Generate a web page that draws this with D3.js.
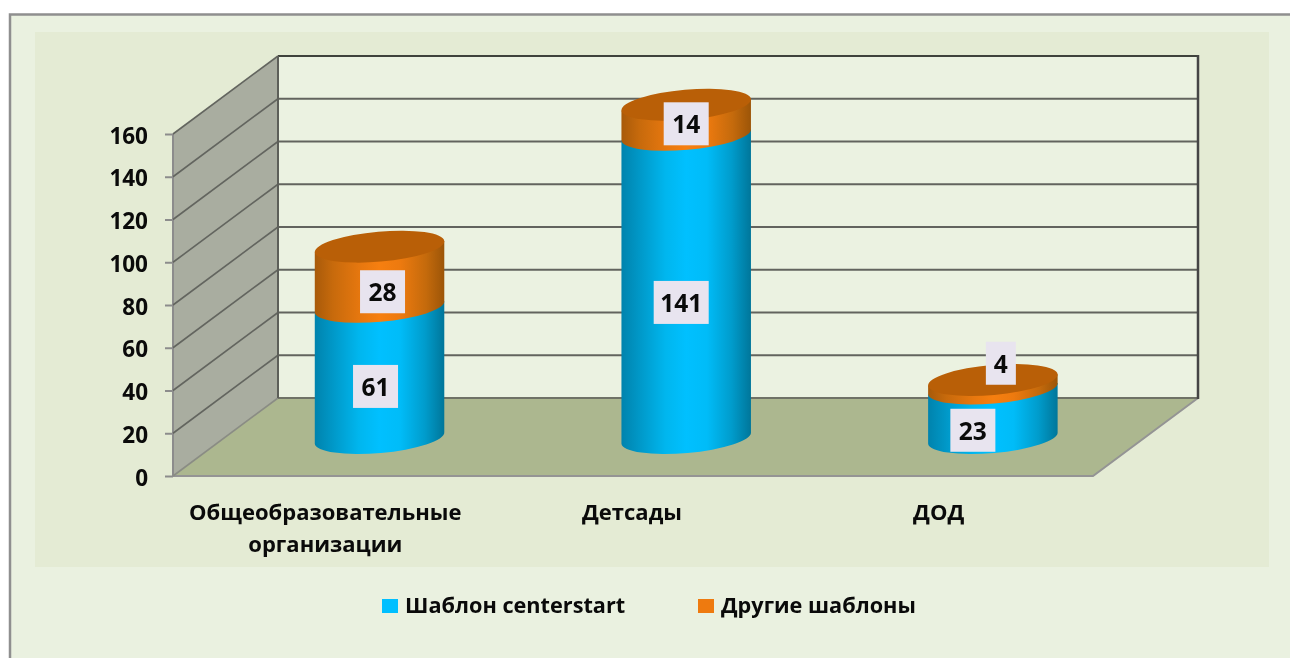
<!DOCTYPE html>
<html lang="ru">
<head>
<meta charset="utf-8">
<script src="https://cdn.jsdelivr.net/npm/d3@7/dist/d3.min.js"></script>
<style>
html,body{margin:0;padding:0;background:#fff;overflow:hidden}
svg{display:block;filter:blur(.4px)}
text{font-family:"Open Sans","Noto Sans",sans-serif;font-weight:700;fill:#0a0a0a}
</style>
</head>
<body>
<svg id="chart" width="1290" height="658"></svg>
<script>
const categories = ["Общеобразовательные организации", "Детсады", "ДОД"];
const templateValues = [61, 141, 23];
const otherValues = [28, 14, 4];
const seriesNames = ["Шаблон centerstart", "Другие шаблоны"];
const tickValues = [0, 20, 40, 60, 80, 100, 120, 140, 160];

const W = 1290, H = 658;
const svg = d3.select("#chart");
const depthX = 105, depthY = -78;
const x = d3.scaleBand().domain(categories).range([173, 1093]);
const y = d3.scaleLinear().domain([0, 160]).range([476, 134]);
// cylinders stand halfway into the floor's depth
const yCyl = d3.scaleLinear().domain([0, 160]).range([438, 94]);
const cylShift = 53.2, rx = 65, ry = 15, tilt = -5;
const tiltRad = tilt * Math.PI / 180;
const endDx = rx * Math.cos(tiltRad), endDy = rx * Math.sin(tiltRad);

// frame and panel
svg.append("rect").attr("x", 10).attr("y", 14.5).attr("width", W).attr("height", H)
  .attr("fill", "#eaf1e0").attr("stroke", "#8f8f8f").attr("stroke-width", 2.5);
svg.append("rect").attr("x", 35).attr("y", 32).attr("width", 1234).attr("height", 535).attr("fill", "#e4ebd4");

// gradients
const defs = svg.append("defs");
function gradient(id, stops) {
  const g = defs.append("linearGradient").attr("id", id).attr("x1", 0).attr("x2", 1).attr("y1", 0).attr("y2", 0);
  stops.forEach(([o, c]) => g.append("stop").attr("offset", o).attr("stop-color", c));
}
gradient("blueBody", [[0, "#0083ad"], [.12, "#0095c4"], [.34, "#00b6ee"], [.5, "#00c0ff"], [.66, "#00bcf8"], [.85, "#009ccc"], [1, "#00769a"]]);
gradient("orangeBody", [[0, "#a85a0a"], [.14, "#c76a0c"], [.36, "#e8780f"], [.5, "#f67f10"], [.66, "#ed7a0f"], [.86, "#c46a0c"], [1, "#9c5508"]]);

const walls = svg.append("g");
const pt = (px, py) => [px, py];
const poly = d3.line();
const x0 = x.range()[0], x1 = x.range()[1];
const back = x0 + depthX, backR = x1 + depthX;

// back wall
walls.append("path")
  .attr("d", poly([pt(back, y(160) + depthY), pt(backR, y(160) + depthY), pt(backR, y(0) + depthY), pt(back, y(0) + depthY)]) + "Z")
  .attr("fill", "#ebf2e1");
// floor
walls.append("path")
  .attr("d", poly([pt(x0, y(0)), pt(back, y(0) + depthY), pt(backR, y(0) + depthY), pt(x1, y(0))]) + "Z")
  .attr("fill", "#acb78f");
walls.append("path")
  .attr("d", poly([pt(x0, y(0)), pt(x1, y(0)), pt(backR, y(0) + depthY)]))
  .attr("fill", "none").attr("stroke", "#949494").attr("stroke-width", 2);
// side wall
walls.append("path")
  .attr("d", poly([pt(x0, y(0)), pt(x0, y(160)), pt(back, y(160) + depthY), pt(back, y(0) + depthY)]) + "Z")
  .attr("fill", "#a9ada0");
walls.append("line").attr("x1", x0).attr("x2", x0).attr("y1", y(0)).attr("y2", y(160))
  .attr("stroke", "#8c8c8c").attr("stroke-width", 2);

// gridlines: slanted part on the side wall, level part on the back wall
const gridG = walls.append("g");
gridG.selectAll("path.side").data(tickValues).join("path").attr("class", "side")
  .attr("d", v => poly([pt(x0, y(v)), pt(back, y(v) + depthY)]))
  .attr("fill", "none").attr("stroke", v => v === 0 ? "#8a8c84" : "#63655f").attr("stroke-width", 1.6);
gridG.selectAll("path.rear").data(tickValues).join("path").attr("class", "rear")
  .attr("d", v => poly([pt(back, y(v) + depthY), pt(backR, y(v) + depthY)]))
  .attr("fill", "none")
  .attr("stroke", v => v === 160 ? "#3f423c" : v === 0 ? "#6f7266" : "#62645e")
  .attr("stroke-width", 2);
gridG.append("line").attr("x1", back).attr("x2", back).attr("y1", y(160) + depthY).attr("y2", y(0) + depthY)
  .attr("stroke", "#5d5f59").attr("stroke-width", 2);
gridG.append("line").attr("x1", backR).attr("x2", backR).attr("y1", y(160) + depthY - 1).attr("y2", y(0) + depthY + 1)
  .attr("stroke", "#454545").attr("stroke-width", 2.5);

// y axis
const axis = svg.append("g").attr("transform", `translate(${x0},0)`)
  .call(d3.axisLeft(y).tickValues(tickValues).tickSize(8).tickPadding(17));
axis.select(".domain").remove();
axis.selectAll("line").attr("stroke", "#8c8c8c").attr("stroke-width", 2);
axis.selectAll("text").attr("font-size", 22.5).attr("dy", "0.40em");

// cylinders
const cx = i => x(categories[i]) + x.bandwidth() / 2 + cylShift;
function body(i, v0, v1) {
  const c = cx(i), a = yCyl(v0), b = yCyl(v1);
  return `M${c - endDx},${b - endDy}L${c - endDx},${a - endDy}` +
    `A${rx},${ry} ${tilt} 0 0 ${c + endDx},${a + endDy}L${c + endDx},${b + endDy}Z`;
}
const bars = svg.append("g");
categories.forEach((cat, i) => {
  const total = templateValues[i] + otherValues[i];
  bars.append("path").attr("d", body(i, 0, templateValues[i])).attr("fill", "url(#blueBody)");
  bars.append("path").attr("d", body(i, templateValues[i], total)).attr("fill", "url(#orangeBody)");
  bars.append("ellipse").attr("cx", 0).attr("cy", 0).attr("rx", rx).attr("ry", ry)
    .attr("transform", `translate(${cx(i)},${yCyl(total)}) rotate(${tilt})`)
    .attr("fill", "#b95f07");
});

// data labels: nudged off each segment's midpoint, as placed in the original
const labelNudgeBlue = [[-4, 14], [-5, 16], [-20, 17]];
const labelNudgeOrange = [[3, 15], [0, 4], [8, -21]];
function dataLabel(text, px, py, boxW) {
  const g = svg.append("g").attr("transform", `translate(${px},${py})`);
  g.append("rect").attr("x", -boxW / 2).attr("y", -21.5).attr("width", boxW).attr("height", 43).attr("fill", "#e8e4ef");
  g.append("text").attr("text-anchor", "middle").attr("dy", "0.39em").attr("font-size", 24.5).text(text);
}
categories.forEach((cat, i) => {
  const v = templateValues[i], o = otherValues[i];
  dataLabel(v, cx(i) + labelNudgeBlue[i][0], yCyl(v / 2) + labelNudgeBlue[i][1], String(v).length > 2 ? 55 : 45);
  dataLabel(o, cx(i) + labelNudgeOrange[i][0], yCyl(v + o / 2) + labelNudgeOrange[i][1], String(o).length > 1 ? 45 : 30);
});

// category labels
const catG = svg.append("g").attr("text-anchor", "middle").attr("font-size", 22);
categories.forEach(cat => {
  const t = catG.append("text").attr("x", x(cat) + x.bandwidth() / 2 - 1).attr("y", 520);
  cat.split(" ").forEach((w, j) => t.append("tspan").attr("x", x(cat) + x.bandwidth() / 2 - 1).attr("dy", j ? 32 : 0).text(w));
});

// legend
const legendX = d3.scaleOrdinal().domain(seriesNames).range([382, 698]);
const legendColor = d3.scaleOrdinal().domain(seriesNames).range(["#00bfff", "#ee7a0f"]);
const leg = svg.append("g").selectAll("g").data(seriesNames).join("g")
  .attr("transform", d => `translate(${legendX(d)},0)`);
leg.append("rect").attr("y", 599).attr("width", 16).attr("height", 14).attr("fill", d => legendColor(d));
leg.append("text").attr("x", 23).attr("y", 613).attr("font-size", 21.7).text(d => d);
</script>
</body>
</html>
